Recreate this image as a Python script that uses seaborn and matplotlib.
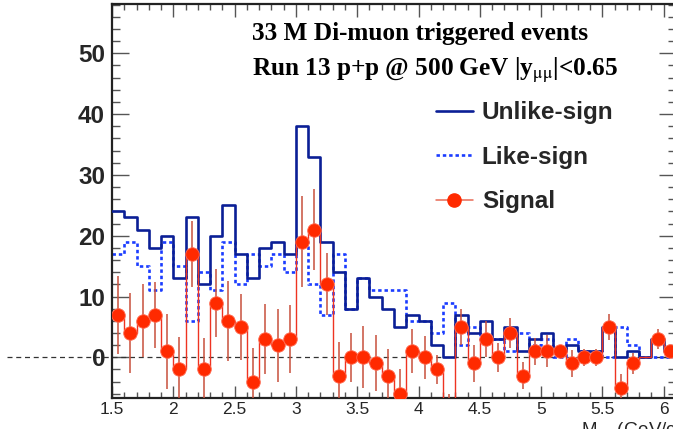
import numpy as np
import pandas as pd
import matplotlib
matplotlib.use("Agg")
import matplotlib.pyplot as plt
from matplotlib.lines import Line2D
from matplotlib.ticker import MultipleLocator
import seaborn as sns

# Invariant-mass binning (GeV/c^2)
bin_edges = np.round(np.arange(1.5, 6.1001, 0.1), 2)

unlike_sign = [24, 23, 21, 18, 20, 13, 23, 12, 20, 25, 17, 13, 18, 19, 17, 38,
               33, 19, 14, 8, 13, 10, 8, 5, 7, 6, 2, 0, 7, 4, 6, 3, 5, 1, 3, 4,
               1, 2, 1, 1, 5, 0, 1, 0, 3, 1]
like_sign = [17, 19, 15, 11, 19, 15, 6, 14, 11, 19, 12, 17, 15, 17, 14, 19,
             12, 7, 17, 8, 13, 11, 11, 11, 6, 6, 4, 9, 2, 5, 3, 3, 1, 4, 2, 3,
             0, 3, 1, 1, 0, 5, 2, 0, 0, 0]
signal = [7, 4, 6, 7, 1, -2, 17, -2, 9, 6, 5, -4, 3, 2, 3, 19, 21, 12, -3, 0,
          0, -1, -3, -6, 1, 0, -2, -9, 5, -1, 3, 0, 4, -3, 1, 1, 1, -1, 0, 0,
          5, -5, -1, 0, 3, 1]
signal_err = [6.4, 6.5, 6.0, 5.4, 6.2, 5.3, 5.4, 5.1, 5.6, 6.6, 5.4, 5.5, 5.7,
              6.0, 5.6, 7.5, 6.7, 5.1, 5.6, 4.0, 5.1, 4.6, 4.4, 4.0, 3.6, 3.5,
              2.4, 3.0, 3.0, 3.0, 3.0, 2.4, 2.4, 2.2, 2.2, 2.6, 1.0, 2.2, 1.4,
              1.4, 2.2, 2.2, 1.7, 0.0, 1.7, 1.0]

legend_labels = ["Unlike-sign", "Like-sign", "Signal"]
title_lines = ["33 M Di-muon triggered events",
               r"Run 13 p+p @ 500 GeV |y$_{\mathrm{μμ}}$|<0.65"]
x_title = r"M$_{\mathrm{μμ}}$ (GeV/c$^{2}$)"

sns.set_theme(style="ticks")
plt.rcParams["font.family"] = ["Liberation Sans", "DejaVu Sans"]
plt.rcParams["mathtext.fontset"] = "stix"

NAVY = "#0b1f96"
BLUE = "#1a3cff"
RED = "#ff2a00"
ERR = "#c8503c"

centers = (bin_edges[:-1] + bin_edges[1:]) / 2
df = pd.DataFrame({
    "mass": centers,
    "unlike": np.array(unlike_sign, float),
    "like": np.array(like_sign, float),
    "signal": np.array(signal, float),
    "err": np.array(signal_err, float),
})

fig = plt.figure(figsize=(6.73, 4.29), dpi=100)
ax = fig.add_axes([112 / 673, 31.3 / 429, 564 / 673, 393.7 / 429])

sns.histplot(data=df, x="mass", weights="unlike", bins=list(bin_edges),
             element="step", fill=False, color=NAVY, lw=1.9, ax=ax, zorder=3)
sns.histplot(data=df, x="mass", weights="like", bins=list(bin_edges),
             element="step", fill=False, color=BLUE, lw=1.9,
             ls=(0, (1.3, 1.1)), ax=ax, zorder=2)
ax.stairs(df["signal"].to_numpy(), bin_edges, color="#ee3322", lw=1.0,
          baseline=None, zorder=4)

shown = df[df["err"] > 0]
ax.errorbar(shown["mass"], shown["signal"], yerr=shown["err"], fmt="none",
            ecolor=ERR, elinewidth=1.1, capsize=0, zorder=5)
sns.scatterplot(data=shown, x="mass", y="signal", s=95, color=RED,
                edgecolor="#ff6a50", linewidth=0.6, ax=ax, zorder=6)

# zero reference line, running out past the frame to the left
ax.axhline(0, xmin=-0.187, xmax=1.0, color="#333333", lw=0.9,
           ls=(0, (4, 3)), clip_on=False, zorder=1)

ax.set_xlim(1.5, 6.1)
ax.set_ylim(-6.64, 58.1)
ax.set_xlabel("")
ax.set_ylabel("")

ax.xaxis.set_major_locator(MultipleLocator(0.5))
ax.xaxis.set_minor_locator(MultipleLocator(0.1))
ax.yaxis.set_major_locator(MultipleLocator(10))
ax.yaxis.set_minor_locator(MultipleLocator(2))
ax.set_xticks([1.5, 2, 2.5, 3, 3.5, 4, 4.5, 5, 5.5, 6])
ax.set_xticklabels(["1.5", "2", "2.5", "3", "3.5", "4", "4.5", "5", "5.5", "6"])
ax.set_yticks([0, 10, 20, 30, 40, 50])

ax.tick_params(which="both", direction="in", top=True, right=True,
               color="#555555", width=1.0)
ax.tick_params(axis="y", which="major", length=12, pad=5, labelsize=17.5)
ax.tick_params(axis="y", which="minor", length=6)
ax.tick_params(axis="x", which="major", length=9, pad=3, labelsize=12.5)
ax.tick_params(axis="x", which="minor", length=4.5)
for lab in ax.get_yticklabels():
    lab.set_fontweight("bold")

for side in ["left", "bottom", "top", "right"]:
    ax.spines[side].set_linewidth(1.6)
    ax.spines[side].set_color("#222222")

for i, line in enumerate(title_lines):
    ax.text(0.249, 0.955 - i * 0.088, line, transform=ax.transAxes,
            family=["Liberation Serif", "DejaVu Serif"], fontweight="bold",
            fontsize=18.2, va="top", ha="left", color="black")

handles = [
    Line2D([], [], color=NAVY, lw=1.9),
    Line2D([], [], color=BLUE, lw=1.9, ls=(0, (1.3, 1.1))),
    Line2D([], [], color="#e86a55", lw=1.1, marker="o", markersize=9.5,
           markerfacecolor=RED, markeredgecolor=RED),
]
leg = ax.legend(handles, legend_labels, loc="upper left",
                bbox_to_anchor=(0.557, 0.778), frameon=False,
                prop={"family": "Liberation Sans", "weight": "bold", "size": 17.5},
                handlelength=1.52, handletextpad=0.37, labelspacing=0.89,
                borderaxespad=0)

fig.text(581 / 673, 1 - 418 / 429, x_title, fontsize=13.5, va="top", ha="left")

fig.savefig("out.png", dpi=100)
